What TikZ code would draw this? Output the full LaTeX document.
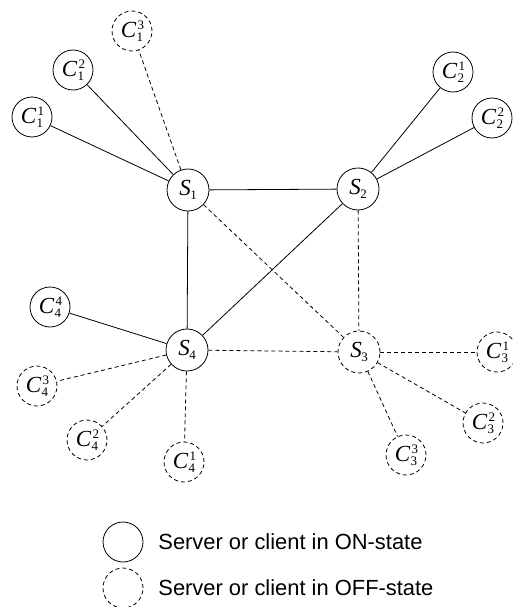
\documentclass[tikz,border=0pt]{standalone}
\usepackage{fontspec}
\setmainfont{Liberation Serif}
\newfontfamily\legendfont{Liberation Sans}
% italic letter with stacked sub- and superscript
\newcommand\idx[3]{\textit{#1}%
  \rlap{\kern1.2pt\raisebox{8.5pt}{\fontsize{13}{13}\selectfont #3}}%
  \raisebox{-3.5pt}{\fontsize{13}{13}\selectfont #2}}
\newcommand\srv[2]{\textit{#1}\kern-0.5pt\raisebox{-3.5pt}{\fontsize{13}{13}\selectfont #2}}
\begin{document}
\begin{tikzpicture}[x=1pt,y=-1pt,
  every node/.style={circle,draw,line width=0.8pt,minimum size=40pt,inner sep=0pt,
    font=\fontsize{23}{23}\selectfont},
  on/.style={solid},
  off/.style={dash pattern=on 4pt off 3pt},
  link/.style={line width=0.8pt},
  offlink/.style={line width=0.8pt,dash pattern=on 4pt off 3pt},
  legendtext/.style={draw=none,rectangle,minimum size=0pt,anchor=west,
    font=\legendfont\fontsize{21.9}{22}\selectfont}]
\useasboundingbox (0,0) rectangle (513,607);

% servers
\node[on,minimum size=42pt]  (S1) at (188,190) {\srv{S}{1}};
\node[on,minimum size=42pt]  (S2) at (358,189) {\srv{S}{2}};
\node[off,minimum size=42pt] (S3) at (359,352) {\srv{S}{3}};
\node[on,minimum size=42pt]  (S4) at (187,350) {\srv{S}{4}};

% clients
\node[on]  (C11) at (32,117)  {\idx{C}{1}{1}};
\node[on]  (C12) at (73,70)   {\idx{C}{1}{2}};
\node[off] (C13) at (132,31)  {\idx{C}{1}{3}};
\node[on]  (C21) at (453,72)  {\idx{C}{2}{1}};
\node[on]  (C22) at (492,118) {\idx{C}{2}{2}};
\node[off] (C31) at (497,352) {\idx{C}{3}{1}};
\node[off] (C32) at (483,423) {\idx{C}{3}{2}};
\node[off] (C33) at (406,455) {\idx{C}{3}{3}};
\node[off] (C41) at (184,462) {\idx{C}{4}{1}};
\node[off] (C42) at (87,440)  {\idx{C}{4}{2}};
\node[off] (C43) at (37,386)  {\idx{C}{4}{3}};
\node[on]  (C44) at (50,307)  {\idx{C}{4}{4}};

% active links
\draw[link] (S1) -- (C11);
\draw[link] (S1) -- (C12);
\draw[link] (S1) -- (S2);
\draw[link] (S1) -- (S4);
\draw[link] (S2) -- (C21);
\draw[link] (S2) -- (C22);
\draw[link] (S2) -- (S4);
\draw[link] (S4) -- (C44);

% inactive links
\draw[offlink] (S1) -- (C13);
\draw[offlink] (S1) -- (S3);
\draw[offlink] (S2) -- (S3);
\draw[offlink] (S4) -- (S3);
\draw[offlink] (S4) -- (C43);
\draw[offlink] (S4) -- (C42);
\draw[offlink] (S4) -- (C41);
\draw[offlink] (S3) -- (C31);
\draw[offlink] (S3) -- (C32);
\draw[offlink] (S3) -- (C33);

% legend
\node[on]  (Lon)  at (123,542) {};
\node[off] (Loff) at (123,588) {};
\node[legendtext] (Ton)  at (158,542) {Server or client in ON-state};
\node[legendtext] (Toff) at (158,588) {Server or client in OFF-state};
\end{tikzpicture}
\end{document}
